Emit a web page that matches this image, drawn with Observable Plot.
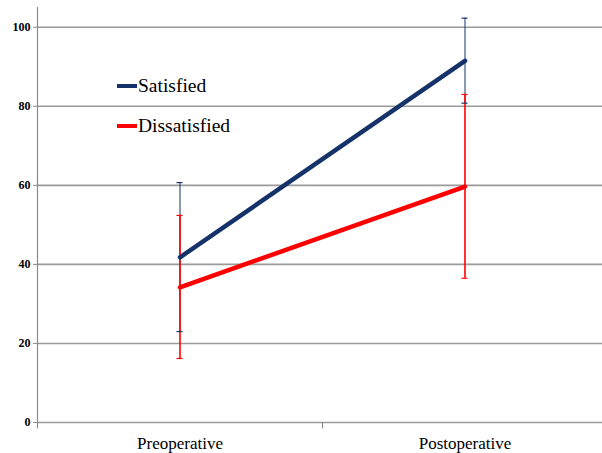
<!DOCTYPE html>
<html><head><meta charset="utf-8">
<script src="https://cdn.jsdelivr.net/npm/d3@7"></script>
<script src="https://cdn.jsdelivr.net/npm/@observablehq/plot@0.6"></script>
<style>
html,body{margin:0;padding:0;background:#fff;}
#wrap{position:relative;width:602px;height:453px;overflow:hidden;}
.leg{position:absolute;font-family:"Liberation Serif","Times New Roman",Times,Tinos,"DejaVu Serif",serif;font-size:19.5px;color:#000;display:flex;align-items:center;}
.leg span.sw{display:inline-block;width:20px;height:4px;margin-right:1px;}
#wrap svg text{font-family:"Liberation Serif","Times New Roman",Times,Tinos,"DejaVu Serif",serif;}
</style>
</head><body>
<div id="wrap"></div>
<script>
const phases = ["Preoperative", "Postoperative"];
const seriesNames = ["Satisfied", "Dissatisfied"];
const colors = ["#15336a", "#ff0000"];
const satisfiedMean = [41.8, 91.5];
const satisfiedLow = [23.0, 80.8];
const satisfiedHigh = [60.7, 102.3];
const dissatisfiedMean = [34.2, 59.7];
const dissatisfiedLow = [16.2, 36.5];
const dissatisfiedHigh = [52.4, 83.0];
const yTicks = [0, 20, 40, 60, 80, 100];

const rows = [];
phases.forEach((p, i) => {
  rows.push({series: "Satisfied", phase: p, mean: satisfiedMean[i], lo: satisfiedLow[i], hi: satisfiedHigh[i]});
});
phases.forEach((p, i) => {
  rows.push({series: "Dissatisfied", phase: p, mean: dissatisfiedMean[i], lo: dissatisfiedLow[i], hi: dissatisfiedHigh[i]});
});
const sat = rows.filter(d => d.series === "Satisfied");
const dis = rows.filter(d => d.series === "Dissatisfied");
const caps = [];
rows.forEach(d => { caps.push({...d, v: d.lo}); caps.push({...d, v: d.hi}); });

const W = 602, H = 453;
const xRange = [37, 607];
const bw = (xRange[1] - xRange[0]) / phases.length;
const capInset = bw / 2 - 3;
const serif = '"Liberation Serif","Times New Roman",Times,Tinos,"DejaVu Serif",serif';

const chart = Plot.plot({
  width: W, height: H,
  marginLeft: 37, marginRight: 0, marginTop: 7, marginBottom: 31,
  style: {fontFamily: serif, background: "#fff", overflow: "visible"},
  x: {domain: phases, range: xRange, padding: 0, label: null},
  y: {domain: [0, 105], label: null},
  color: {domain: seriesNames, range: colors},
  marks: [
    Plot.ruleY(yTicks, {stroke: "#9a9a9a", strokeWidth: 1.6}),
    Plot.frame({anchor: "left", stroke: "#8a8a8a", strokeWidth: 1.2}),
    Plot.ruleX(phases, {x: d => d, dx: -bw / 2, y1: 0, y2: -1.6, stroke: "#8a8a8a", strokeWidth: 1.2}),
    Plot.axisY({ticks: yTicks, tickSize: 4, tickPadding: 3, stroke: "#8a8a8a", fontWeight: "bold", fontSize: 12, label: null}),
    Plot.axisX({tickSize: 0, tickPadding: 14, fontSize: 17, label: null}),
    Plot.ruleX(sat, {x: "phase", y1: "lo", y2: "hi", stroke: colors[0], strokeWidth: 1}),
    Plot.ruleX(dis, {x: "phase", y1: "lo", y2: "hi", stroke: colors[1], strokeWidth: 1.6}),
    Plot.tickY(caps, {x: "phase", y: "v", stroke: "series", strokeWidth: 1.2, insetLeft: capInset, insetRight: capInset}),
    Plot.line(dis, {x: "phase", y: "mean", stroke: colors[1], strokeWidth: 4.5}),
    Plot.line(sat, {x: "phase", y: "mean", stroke: colors[0], strokeWidth: 4.5})
  ]
});
const wrap = document.getElementById("wrap");
wrap.appendChild(chart);

const legendPos = [{left: 117, top: 75}, {left: 117, top: 115}];
seriesNames.forEach((name, i) => {
  const el = document.createElement("div");
  el.className = "leg";
  el.style.left = legendPos[i].left + "px";
  el.style.top = legendPos[i].top + "px";
  el.innerHTML = `<span class="sw" style="background:${colors[i]}"></span><span>${name}</span>`;
  wrap.appendChild(el);
});
</script>
</body></html>
